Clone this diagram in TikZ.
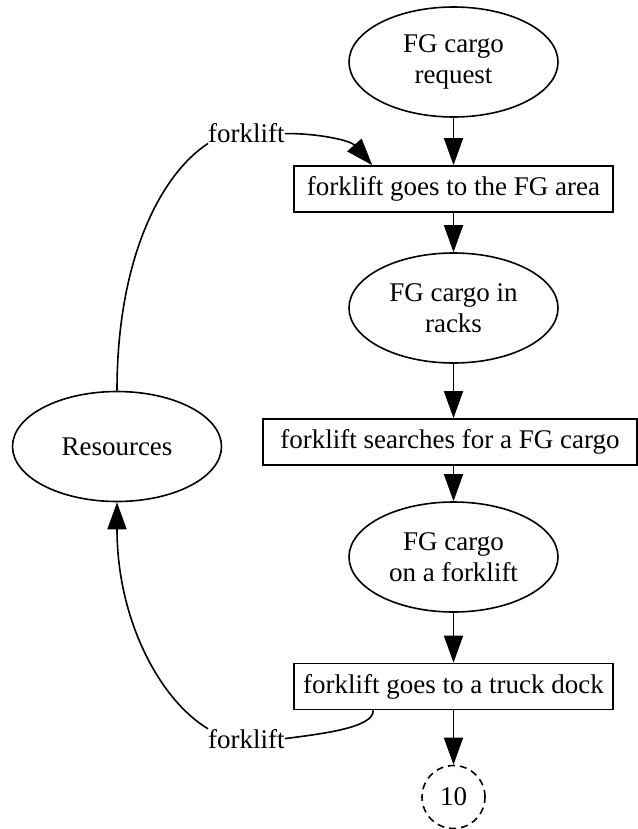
\documentclass[tikz,border=0pt]{standalone}
\usepackage{fontspec}
\setmainfont{Liberation Serif}
\usetikzlibrary{arrows.meta,shapes.geometric}
\begin{document}
\begin{tikzpicture}[x=1pt,y=-1pt,
  every node/.style={font=\fontsize{27}{31}\selectfont},
  base/.style={draw, line width=1.6pt, inner sep=0pt},
  state/.style={base, ellipse, minimum width=209pt, minimum height=110pt, align=center},
  action/.style={base, rectangle, minimum height=46pt},
  term/.style={draw, circle, dash pattern=on 7pt off 5pt, line width=1.6pt, minimum size=63pt, inner sep=0pt},
  tag/.style={inner sep=0pt},
  link/.style={line width=1.6pt},
  flow/.style={link, -{Triangle[length=27pt,width=19pt]}}
]
\useasboundingbox (0,0) rectangle (637,829);

% main chain
\node[state] (req) at (453.5,62) {FG cargo\\request};
\node[action, minimum width=319pt] (goFG) at (453.5,189) {forklift goes to the FG area};
\node[state] (racks) at (453.5,308) {FG cargo in\\racks};
\node[action, minimum width=374pt] (search) at (450,442) {forklift searches for a FG cargo};
\node[state] (onfork) at (453.5,557) {FG cargo\\on a forklift};
\node[action, minimum width=319pt] (goDock) at (453.5,686.5) {forklift goes to a truck dock};
\node[term] (ten) at (453.5,797) {10};

% resource pool and its edge labels
\node[state] (res) at (117,446.5) {Resources};
\node[tag, anchor=base west] (lblA) at (208,143) {forklift};
\node[tag, anchor=base west] (lblB) at (208,748) {forklift};

\draw[flow] (req.south) -- (goFG.north);
\draw[flow] (goFG.south) -- (racks.north);
\draw[flow] (racks.south) -- (racks.south |- search.north);
\draw[flow] (onfork.north |- search.south) -- (onfork.north);
\draw[flow] (onfork.south) -- (goDock.north);
\draw[flow] (goDock.south) -- (ten.north);

% forklift taken from the pool
\draw[link] (res.north) .. controls (117,260) and (160,175) .. (lblA.south west);
\draw[flow] (lblA.east) .. controls (315,133) and (350,140) .. ([xshift=79pt]goFG.north west);

% forklift returned to the pool
\draw[link] ([xshift=80pt]goDock.south west) .. controls (374,728) and (320,734) .. (lblB.east);
\draw[flow] (lblB.north west) .. controls (160,700) and (117,620) .. (res.south);
\end{tikzpicture}
\end{document}
